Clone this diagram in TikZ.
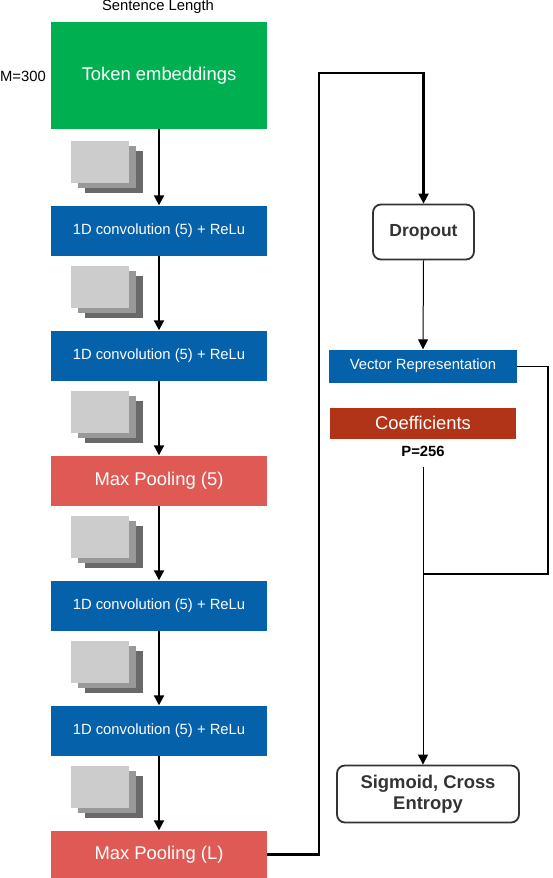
\documentclass[tikz,border=0pt]{standalone}
\usepackage{fontspec}
\setmainfont{Liberation Sans}
\usetikzlibrary{arrows.meta}
\definecolor{tokgreen}{HTML}{00B050}
\definecolor{convblue}{HTML}{0561AA}
\definecolor{poolred}{HTML}{E05A55}
\definecolor{coefred}{HTML}{B23418}
\definecolor{stlight}{HTML}{CCCCCC}
\definecolor{stmid}{HTML}{999999}
\definecolor{stdark}{HTML}{696969}
\definecolor{dgray}{HTML}{333333}
\tikzset{
  colbox/.style={rectangle, inner sep=0pt, minimum width=216pt, minimum height=50pt, text=white},
  convbox/.style={colbox, fill=convblue, font=\fontsize{14.8}{16}\selectfont},
  poolbox/.style={colbox, fill=poolred, font=\fontsize{18.4}{20}\selectfont},
  roundbox/.style={rectangle, rounded corners=8pt, draw=dgray, line width=1.8pt, text=dgray, font=\bfseries\fontsize{17.5}{20}\selectfont, align=center, inner sep=0pt},
  thickarrow/.style={line width=2pt, -{Triangle[width=10pt,length=10pt]}},
  thinarrow/.style={line width=1pt, -{Triangle[width=10pt,length=10pt]}},
  lbl/.style={inner sep=0pt, font=\fontsize{14.8}{16}\selectfont},
}
\newcommand{\fmstack}[1]{%
  \fill[stdark] (85,#1+10) rectangle (143,#1+52);
  \fill[stmid] (78,#1+5) rectangle (136,#1+47);
  \fill[stlight] (71,#1) rectangle (129,#1+42);
}
\begin{document}
\begin{tikzpicture}[x=1pt,y=-1pt]
\useasboundingbox (0,0) rectangle (552,878);
\fill[white] (0,0) rectangle (552,878);

% stacks of feature maps
\fmstack{141}
\fmstack{266}
\fmstack{391}
\fmstack{516}
\fmstack{641}
\fmstack{766}

% left column
\node[lbl] (sl) at (158,7) {Sentence Length};
\node[colbox, fill=tokgreen, minimum height=107pt, font=\fontsize{18.4}{20}\selectfont] (tok) at (159,75.5) {Token embeddings};
\node[lbl, anchor=east] (m) at (46,76) {M=300};
\node[convbox] (c1) at (159,230.5) {1D convolution (5) + ReLu};
\node[convbox] (c2) at (159,355.5) {1D convolution (5) + ReLu};
\node[poolbox] (p1) at (159,480.5) {Max Pooling (5)};
\node[convbox] (c3) at (159,605.5) {1D convolution (5) + ReLu};
\node[convbox] (c4) at (159,730.5) {1D convolution (5) + ReLu};
\node[poolbox, minimum height=48pt] (p2) at (159,854.5) {Max Pooling (L)};

\draw[thickarrow] (tok.south) -- (c1.north);
\draw[thickarrow] (c1.south) -- (c2.north);
\draw[thickarrow] (c2.south) -- (p1.north);
\draw[thickarrow] (p1.south) -- (c3.north);
\draw[thickarrow] (c3.south) -- (c4.north);
\draw[thickarrow] (c4.south) -- (p2.north);

% right column
\node[roundbox, minimum width=101pt, minimum height=55pt] (drop) at (423.5,232) {Dropout};
\node[rectangle, inner sep=0pt, minimum width=188pt, minimum height=33pt, fill=convblue, text=white, font=\fontsize{14.8}{16}\selectfont] (vr) at (423,366) {Vector Representation};
\node[rectangle, inner sep=0pt, minimum width=186pt, minimum height=31pt, fill=coefred, text=white, font=\fontsize{18.4}{20}\selectfont] (coef) at (423,423) {Coefficients};
\node[lbl, font=\bfseries\fontsize{14.8}{16}\selectfont] (p) at (423,451) {P=256};
\node[roundbox, minimum width=182pt, minimum height=57pt, font=\bfseries\fontsize{18.4}{21}\selectfont] (sig) at (428,794) {Sigmoid, Cross\\Entropy};

\coordinate (l2) at (319,73);
\coordinate (l3) at (423.5,73);
\draw[line width=2.2pt, -{Triangle[width=10pt,length=10pt]}] (p2.east) -| (l2) -- (l3) -- (drop.north);

\draw[thinarrow] (drop.south) -- (vr.north);

\coordinate (r1) at (548,366);
\coordinate (r2) at (548,574);
\coordinate (r3) at (423,574);
\draw[line width=1pt] (vr.east) -- (r1);
\draw[line width=2pt] (r1) -- (r2) -- (r3);

\coordinate (ps) at (423,467);
\draw[thinarrow] (ps) -- (sig.north -| ps);
\end{tikzpicture}
\end{document}
